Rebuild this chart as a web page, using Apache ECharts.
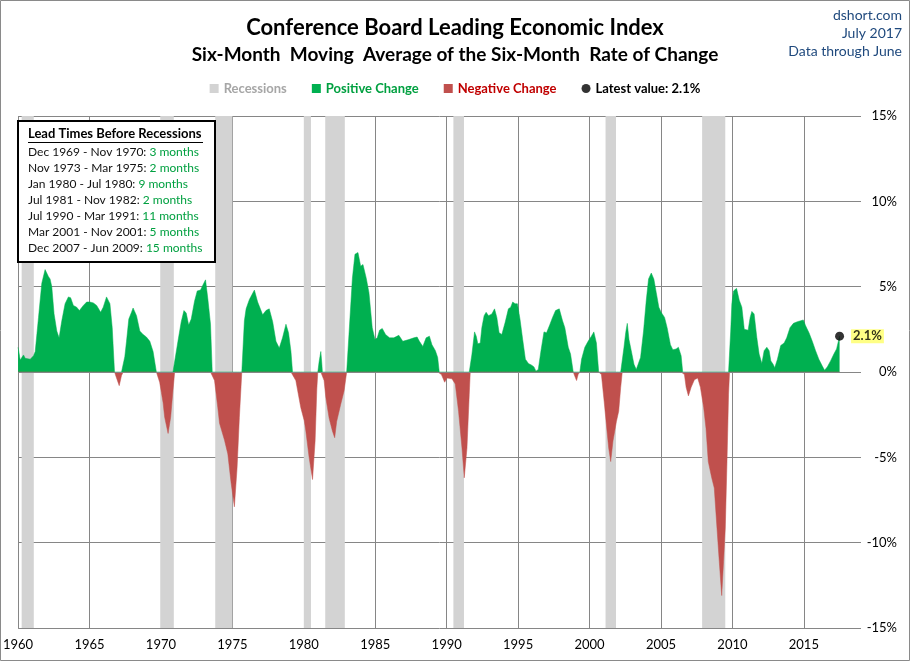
<!DOCTYPE html>
<html><head><meta charset="utf-8">
<script src="https://cdn.jsdelivr.net/npm/echarts@6/dist/echarts.min.js"></script>
<style>html,body{margin:0;padding:0;background:#fff}#c{width:910px;height:661px}</style>
</head><body><div id="c"></div>
<script>
// ---- data (decimal year, six-month MA of six-month rate of change, %) ----
const dates = [
 1960.00,1960.15,1960.38,1960.50,1960.62,1960.85,1961.08,1961.20,1961.43,1961.66,1961.89,1962.01,1962.12,1962.24,1962.36,1962.52,1962.71,1962.87,
 1963.06,1963.29,1963.52,1963.68,1963.87,1964.10,1964.29,1964.57,1964.80,1965.03,1965.27,1965.50,1965.78,1965.96,1966.19,1966.31,1966.43,1966.59,
 1966.70,1966.75,1966.89,1967.08,1967.24,1967.36,1967.47,1967.59,1967.75,1967.94,1968.05,1968.29,1968.52,1968.75,1968.98,1969.10,1969.22,1969.45,
 1969.68,1969.91,1970.03,1970.15,1970.26,1970.50,1970.68,1970.84,1970.96,1971.19,1971.42,1971.61,1971.77,1971.94,1972.12,1972.35,1972.54,1972.77,
 1972.94,1973.12,1973.28,1973.47,1973.59,1973.75,1973.98,1974.10,1974.45,1974.68,1974.91,1975.14,1975.33,1975.49,1975.66,1975.84,1975.96,1976.19,
 1976.54,1976.77,1977.12,1977.35,1977.58,1977.82,1978.05,1978.28,1978.51,1978.75,1978.93,1979.10,1979.21,1979.44,1979.79,1980.03,1980.14,1980.37,
 1980.61,1980.79,1980.91,1980.98,1981.07,1981.19,1981.26,1981.30,1981.42,1981.54,1981.77,1982.00,1982.16,1982.30,1982.58,1982.82,1983.00,1983.16,
 1983.40,1983.58,1983.79,1983.98,1984.14,1984.37,1984.56,1984.79,1984.98,1985.14,1985.30,1985.49,1985.72,1986.00,1986.30,1986.65,1986.93,1987.35,
 1987.70,1987.93,1988.09,1988.33,1988.56,1988.79,1988.97,1989.21,1989.37,1989.48,1989.63,1989.86,1990.02,1990.37,1990.60,1990.83,1991.07,1991.23,
 1991.42,1991.58,1991.65,1991.76,1991.95,1992.07,1992.18,1992.35,1992.46,1992.62,1992.76,1992.93,1993.16,1993.35,1993.51,1993.67,1993.86,1994.09,
 1994.32,1994.48,1994.62,1994.79,1994.95,1995.13,1995.32,1995.51,1995.72,1995.95,1996.11,1996.25,1996.41,1996.60,1996.81,1996.99,1997.23,1997.41,
 1997.62,1997.88,1998.11,1998.27,1998.51,1998.67,1998.86,1998.97,1999.09,1999.20,1999.32,1999.44,1999.67,1999.90,2000.13,2000.30,2000.48,2000.64,
 2000.83,2001.02,2001.18,2001.34,2001.48,2001.64,2001.88,2002.04,2002.18,2002.29,2002.41,2002.53,2002.64,2002.76,2002.92,2003.11,2003.27,2003.39,
 2003.57,2003.78,2003.97,2004.13,2004.32,2004.50,2004.67,2004.85,2005.01,2005.25,2005.43,2005.66,2005.83,2006.06,2006.22,2006.41,2006.52,2006.64,
 2006.76,2006.92,2007.11,2007.34,2007.57,2007.76,2007.99,2008.15,2008.31,2008.55,2008.73,2008.92,2009.08,2009.25,2009.38,2009.50,2009.62,2009.73,
 2009.80,2009.88,2009.96,2010.08,2010.29,2010.48,2010.66,2010.83,2010.94,2011.10,2011.24,2011.36,2011.52,2011.71,2011.87,2012.06,2012.22,2012.41,
 2012.57,2012.69,2012.85,2012.96,2013.15,2013.38,2013.62,2013.80,2014.03,2014.27,2014.55,2014.78,2014.96,2015.13,2015.36,2015.59,2015.82,2016.05,
 2016.29,2016.45,2016.64,2016.87,2017.10,2017.29,2017.50
];
const values = [
 1.45,0.7,1.0,0.8,0.9,0.75,0.95,1.2,3.2,5.2,6.0,5.9,5.6,5.45,5.0,3.4,2.4,2.0,
 3.0,4.0,4.4,4.35,3.9,3.8,3.6,3.9,4.1,4.1,4.05,3.9,3.5,3.8,4.4,4.5,4.0,2.6,
 0.8,0,-0.35,-0.8,-0.2,0,0.9,1.8,3.1,3.5,3.75,3.3,2.4,2.2,2.05,2.1,1.8,1.2,
 0,-0.6,-1.2,-1.8,-2.65,-3.6,-2.65,-1.1,0,1.8,2.95,3.6,3.45,2.75,3.1,4.15,4.75,4.8,
 5.1,5.4,4.3,2.8,0,-0.5,-2.1,-3.0,-4.0,-4.8,-6.5,-7.9,-5.6,-2.65,0,3.0,3.7,4.25,
 4.8,4.1,3.35,3.6,3.7,2.95,1.8,1.4,2.0,2.8,2.3,1.2,0,-0.5,-2.1,-2.85,-3.45,-5.0,
 -6.3,-4.05,-1.0,0,0.6,1.2,0.5,0,-0.5,-1.5,-2.7,-3.45,-3.85,-2.9,-1.9,-1.1,0,2.2,
 5.5,6.9,7.0,6.2,6.3,5.5,4.65,2.6,1.9,2.0,2.45,2.55,2.2,2.0,2.0,2.15,1.8,1.9,
 2.0,2.05,1.8,1.5,2.0,2.1,1.6,1.25,0.85,0,-0.15,-0.6,-0.35,-0.4,-0.7,-2.3,-4.45,-6.2,
 -4.45,-1.3,0,1.0,2.35,2.1,1.65,1.7,2.6,3.3,3.5,3.3,3.4,3.7,3.2,2.3,2.2,2.9,
 3.7,3.8,4.1,4.0,4.0,3.1,1.9,0.75,0.5,0.4,0.3,0.05,0.15,1.25,2.35,2.3,2.8,3.2,
 3.6,3.7,3.0,2.6,1.45,1.05,0,-0.25,-0.5,-0.15,0,0.75,1.45,1.8,2.1,2.35,1.7,0,
 -0.15,-1.7,-3.1,-4.45,-5.25,-4.05,-2.9,-2.3,-0.9,0,1.45,2.3,2.85,1.9,1.25,0.45,0.15,0.25,
 0.85,2.4,4.2,5.45,5.8,5.45,4.65,3.8,3.5,3.2,2.6,1.6,1.3,1.35,1.45,0.95,0,-0.15,
 -0.9,-1.4,-0.9,-0.45,-0.35,-0.9,-2.1,-3.3,-5.25,-6.2,-6.8,-9.15,-11.1,-13.1,-11.1,-9.15,-5.25,-1.3,
 0,2.4,4.0,4.75,4.9,4.2,3.8,2.5,2.4,2.45,3.2,3.55,3.4,2.0,1.05,0.5,1.25,1.45,
 1.25,0.65,0.45,0.25,0.75,1.55,1.7,2.0,2.6,2.85,2.95,3.0,3.05,2.7,2.3,1.8,1.25,0.75,
 0.35,0.1,0.3,0.65,1.05,1.35,2.1
];
const recessionStart = [1960.25, 1969.95, 1973.8, 1980.0, 1981.5, 1990.47, 2001.12, 2007.88];
const recessionEnd   = [1961.10, 1970.90, 1975.0, 1980.5, 1982.87, 1991.21, 2001.85, 2009.50];
const leadPeriods = ['Dec 1969 - Nov 1970: ','Nov 1973 - Mar 1975: ','Jan 1980 - Jul 1980: ','Jul 1981 - Nov 1982: ',
                     'Jul 1990 - Mar 1991: ','Mar 2001 - Nov 2001: ','Dec 2007 - Jun 2009: '];
const leadMonths = ['3 months','2 months','9 months','2 months','11 months','5 months','15 months'];
const sourceLines = ['dshort.com', 'July 2017', 'Data through June'];

// ---- styling ----
const FONT = 'Lato, "Open Sans", sans-serif';
const GREEN = '#00B050', RED = '#C0504D', GRAY = '#D3D3D3', GRID = '#868686';

const last = dates.length - 1;
const latestLabel = 'Latest value: ' + values[last].toFixed(1) + '%';
const posData = dates.map((d, i) => [d, Math.max(values[i], 0)]);
const negData = dates.map((d, i) => [d, Math.min(values[i], 0)]);

const graphics = [
  {type:'rect', z:100, silent:true, shape:{x:0.5,y:0.5,width:909,height:660}, style:{fill:'none', stroke:'#8a8a8a', lineWidth:1}},
  {type:'rect', z:100, shape:{x:18,y:121,width:197,height:141}, style:{fill:'#fff', stroke:'#000', lineWidth:2}},
  {type:'text', z:101, x:28, y:134, style:{text:'Lead Times Before Recessions', font:'bold 13px ' + FONT, fill:'#000', verticalAlign:'middle'}},
  {type:'line', z:101, shape:{x1:28,y1:142.5,x2:203,y2:142.5}, style:{stroke:'#000', lineWidth:1}}
];
leadPeriods.forEach((p, i) => {
  graphics.push({type:'text', z:101, x:28, y:152 + i * 16.1, style:{
    text:'{a|' + p + '}{b|' + leadMonths[i] + '}', verticalAlign:'middle',
    rich:{a:{fontFamily:FONT, fontSize:12, fill:'#111', color:'#111'}, b:{fontFamily:FONT, fontSize:12, fill:'#00A040', color:'#00A040'}}
  }});
});
sourceLines.forEach((t, i) => {
  graphics.push({type:'text', z:101, x:902, y:15 + i * 18, style:{
    text:t, font:'14px ' + FONT, fill:'#1F497D', align:'right', verticalAlign:'middle'}});
});

const option = {
  animation:false,
  textStyle:{fontFamily:FONT},
  title:[
    {text:'Conference Board Leading Economic Index', left:'center', top:12,
     textStyle:{fontFamily:FONT, fontSize:22, fontWeight:'bold', color:'#000'}},
    {text:'Six-Month  Moving  Average of the Six-Month  Rate of Change', left:'center', top:40,
     textStyle:{fontFamily:FONT, fontSize:19, fontWeight:'bold', color:'#000'}}
  ],
  legend:{top:77, left:'center', itemWidth:9, itemHeight:9, itemGap:25,
    textStyle:{fontFamily:FONT, fontSize:13, fontWeight:'bold'},
    data:[
      {name:'Recessions', icon:'rect', textStyle:{color:'#A6A6A6'}},
      {name:'Positive Change', icon:'rect', textStyle:{color:'#00A040'}},
      {name:'Negative Change', icon:'rect', textStyle:{color:'#C00000'}},
      {name:latestLabel, icon:'circle', itemStyle:{color:'#000'}, textStyle:{color:'#000'}}
    ]},
  grid:{left:14, right:49, top:116, bottom:33},
  xAxis:{type:'value', min:1960, max:2019, interval:5,
    axisLine:{show:false}, axisTick:{show:false},
    axisLabel:{fontFamily:FONT, fontSize:13, color:'#000', margin:10, showMaxLabel:false,
      formatter:v => (v % 5 === 0 ? String(v) : '')},
    splitLine:{show:true, showMaxLine:false, lineStyle:{color:GRID, width:1}}},
  yAxis:{type:'value', position:'right', min:-15, max:15, interval:5,
    axisLine:{show:false}, axisTick:{show:false},
    axisLabel:{fontFamily:FONT, fontSize:13, color:'#000', align:'right', margin:36, formatter:v => v + '%'},
    splitLine:{show:true, lineStyle:{color:GRID, width:1}}},
  series:[
    {name:'Recessions', type:'line', data:[], color:GRAY, itemStyle:{color:GRAY}, z:1,
      markArea:{silent:true, itemStyle:{color:GRAY}, data:recessionStart.map((s, i) => [{xAxis:s}, {xAxis:recessionEnd[i]}])}},
    {name:'Positive Change', type:'line', data:posData, symbol:'none', color:GREEN,
      lineStyle:{width:0.5, color:GREEN}, areaStyle:{color:GREEN, opacity:1}, z:3},
    {name:'Negative Change', type:'line', data:negData, symbol:'none', color:RED,
      lineStyle:{width:0.5, color:RED}, areaStyle:{color:RED, opacity:1}, z:3,
      markLine:{silent:true, symbol:'none', label:{show:false}, lineStyle:{color:GRID, width:1, type:'solid'}, data:[{yAxis:0}]}},
    {name:latestLabel, type:'scatter', data:[[dates[last], values[last]]], symbol:'circle', symbolSize:9, z:6,
      itemStyle:{color:'#000'},
      label:{show:true, position:'right', distance:7, formatter:p => p.value[1].toFixed(1) + '%',
        backgroundColor:'#FFFF66', padding:[1,2,0,2], color:'#000', fontWeight:'bold', fontSize:13, fontFamily:FONT}}
  ],
  graphic:graphics
};
const chart = echarts.init(document.getElementById('c'));
chart.setOption(option);
</script></body></html>
